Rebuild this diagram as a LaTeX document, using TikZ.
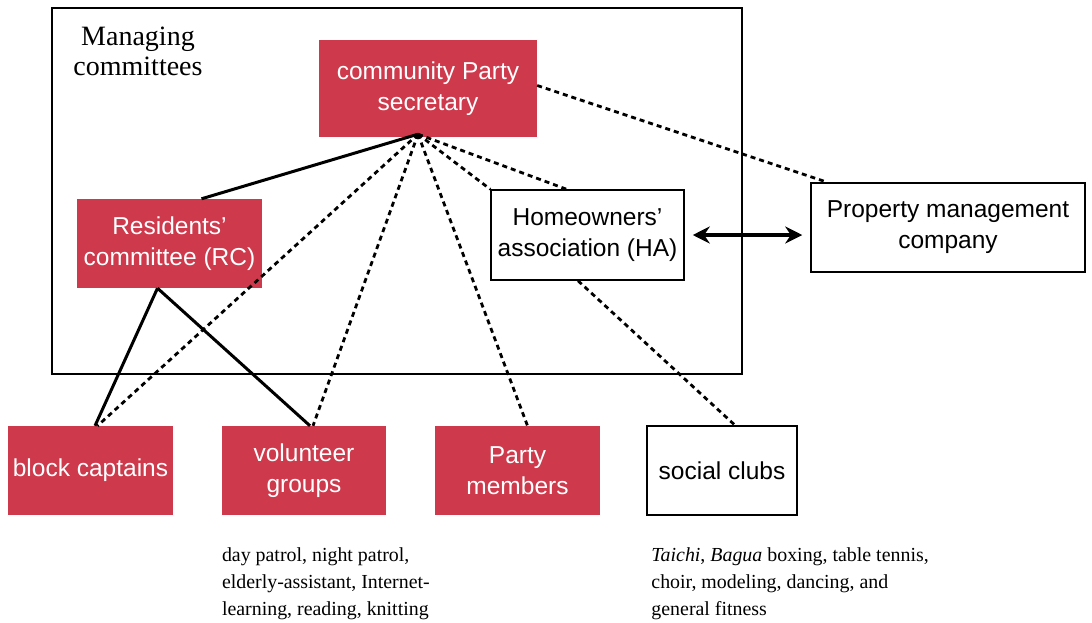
\documentclass[tikz,border=0pt]{standalone}
\usepackage{fontspec}
\setmainfont{Liberation Serif}
\setsansfont{Liberation Sans}
\usetikzlibrary{arrows.meta}
\definecolor{partyred}{RGB}{206,57,76}
\begin{document}
\begin{tikzpicture}[x=1pt,y=-1pt,
    redbox/.style={rectangle,fill=partyred,text=white,inner sep=0pt,align=center,
      font=\sffamily\fontsize{24.5}{31}\selectfont},
    whitebox/.style={rectangle,draw=black,line width=1.5pt,inner sep=0pt,align=center,
      font=\sffamily\fontsize{24.5}{31}\selectfont},
    note/.style={anchor=north west,inner sep=0pt,align=left,
      font=\fontsize{19.9}{27}\selectfont},
    solidlink/.style={line width=3pt},
    dotlink/.style={line width=2.8pt,dash pattern=on 5pt off 4pt}]
  \useasboundingbox (0,0) rectangle (1092,622);

  % managing committees frame
  \draw[line width=1.5pt] (52,8) rectangle (742,374);
  \node[align=center,font=\fontsize{28}{30}\selectfont] (title) at (138,51) {Managing\\committees};

  \node[redbox,minimum width=218pt,minimum height=97pt] (sec) at (428,88.5) {community Party\\secretary};
  \node[redbox,minimum width=185pt,minimum height=89pt] (rc) at (169.5,243.5) {Residents’\\committee (RC)};
  \node[whitebox,minimum width=193pt,minimum height=90pt] (ha) at (587.5,235) {Homeowners’\\association (HA)};
  \node[whitebox,minimum width=274pt,minimum height=89pt] (pm) at (948,227.5) {Property management\\company};

  % bottom row
  \node[redbox,minimum width=165pt,minimum height=89pt] (block) at (90.5,470.5) {block captains};
  \node[redbox,minimum width=164pt,minimum height=89pt] (vol) at (304,470.5) {volunteer\\groups};
  \node[redbox,minimum width=165pt,minimum height=89pt] (party) at (517.5,470.5) {Party\\members};
  \node[whitebox,minimum width=150pt,minimum height=89pt] (clubs) at (722,470.5) {social clubs};

  \node[note] (volnote) at ([yshift=-32pt]vol.south west)
    {day patrol, night patrol,\\elderly-assistant, Internet-\\learning, reading, knitting};
  \node[note] (clubnote) at ([shift={(5,32)}]clubs.south west)
    {\textit{Taichi}, \textit{Bagua} boxing, table tennis,\\choir, modeling, dancing, and\\general fitness};

  \coordinate (apex) at ([shift={(-10,-3)}]sec.south);
  \coordinate (rcfoot) at ([xshift=-12pt]rc.south);

  \draw[solidlink] (apex) -- ([xshift=32pt]rc.north);
  \draw[solidlink] (rcfoot) -- ([xshift=4.5pt]block.north);
  \draw[solidlink] (rcfoot) -- ([xshift=6pt]vol.north);

  \foreach \to/\dx in {block/7,vol/9,party/10,ha/-21}
    \draw[dotlink] (apex) -- ([xshift=\dx pt]\to.north);
  \draw[dotlink] (apex) -- (ha.north west);
  \draw[dotlink] ([yshift=3pt]sec.east) -- ([xshift=17pt]pm.north west);
  \draw[dotlink] ([xshift=-9.5pt]ha.south) -- ([xshift=13pt]clubs.north);

  \draw[line width=3.5pt,{Stealth[length=17pt,width=17pt]}-{Stealth[length=17pt,width=17pt]},
    shorten <=8pt,shorten >=8pt] (ha.east) -- (ha.east -| pm.west);
\end{tikzpicture}
\end{document}
